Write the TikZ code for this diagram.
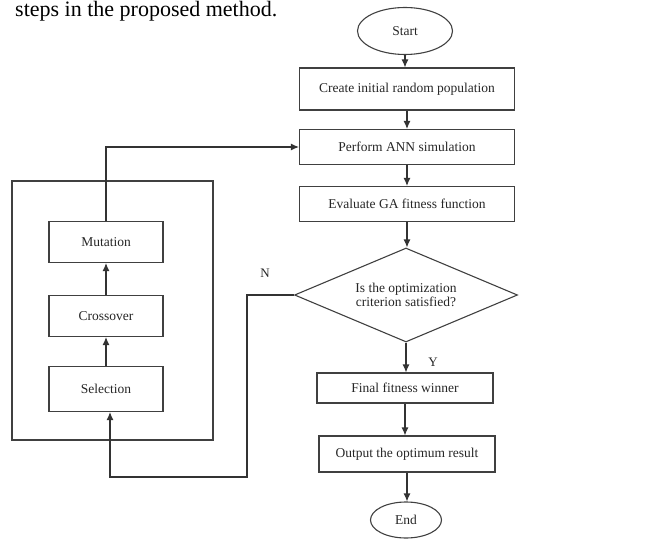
\documentclass[tikz,border=0pt]{standalone}
\usepackage{fontspec}
\setmainfont{Liberation Serif}
\usetikzlibrary{shapes.geometric,arrows.meta}
\begin{document}
\begin{tikzpicture}[x=1pt,y=-1pt,
  every node/.style={text=black!85},
  box/.style={draw=black!75,line width=1.1pt,rectangle,inner sep=0pt,font=\fontsize{13.5}{14}\selectfont},
  oval/.style={draw=black!75,line width=1.1pt,ellipse,inner sep=0pt,font=\fontsize{13.5}{14}\selectfont},
  decide/.style={draw=black!75,line width=1.1pt,diamond,aspect=2.37,inner sep=0pt,align=center,font=\fontsize{13.5}{14}\selectfont},
  lbl/.style={font=\fontsize{13}{14}\selectfont},
  arr/.style={draw=black!80,line width=1.1pt,-{Latex[length=8pt,width=7pt]}},
  ln/.style={draw=black!80,line width=1.1pt}]
\useasboundingbox (0,0) rectangle (658,540);
\node[anchor=base west,font=\fontsize{22}{24}\selectfont,text=black,inner sep=0pt] (cap) at (15,17) {steps in the proposed method.};
% main column
\node[oval,minimum width=95,minimum height=47] (start) at (405,31) {Start};
\node[box,minimum width=215,minimum height=42] (create) at (407,89) {Create initial random population};
\node[box,minimum width=215,minimum height=35] (perform) at (407,147) {Perform ANN simulation};
\node[box,minimum width=215,minimum height=35] (eval) at (407,204) {Evaluate GA fitness function};
\node[decide,minimum width=223,minimum height=94] (dec) at (406,295) {Is the optimization\\criterion satisfied?};
\node[box,minimum width=176,minimum height=30] (final) at (405,388) {Final fitness winner};
\node[box,minimum width=176,minimum height=36] (output) at (407,454) {Output the optimum result};
\node[oval,minimum width=71,minimum height=36] (end) at (406,520) {End};
% loop
\node[draw=black!75,line width=1.1pt,rectangle,minimum width=201,minimum height=259,inner sep=0pt] (loopbox) at (112.5,310.5) {};
\node[box,minimum width=114,minimum height=41] (mut) at (106,242) {Mutation};
\node[box,minimum width=114,minimum height=41] (cross) at (106,316) {Crossover};
\node[box,minimum width=114,minimum height=45] (sel) at (106,389) {Selection};
% connectors
\draw[arr] (start) -- (start |- create.north);
\draw[arr] (create) -- (perform);
\draw[arr] (perform) -- (eval);
\draw[arr] (eval) -- (eval |- dec.north);
\draw[arr] (dec) -- (dec |- final.north);
\draw[arr] (final) -- (final |- output.north);
\draw[arr] (output) -- (output |- end.north);
\draw[arr] (sel) -- (cross);
\draw[arr] (cross) -- (mut);
\draw[arr] (mut.north) |- (perform.west);
\coordinate (nc) at (247,477);
\draw[arr] (dec.west) -| (nc) -| ([xshift=4pt]sel.south);
\node[lbl] (nlab) at (265,273) {N};
\node[lbl] (ylab) at (433,362) {Y};
\end{tikzpicture}
\end{document}
